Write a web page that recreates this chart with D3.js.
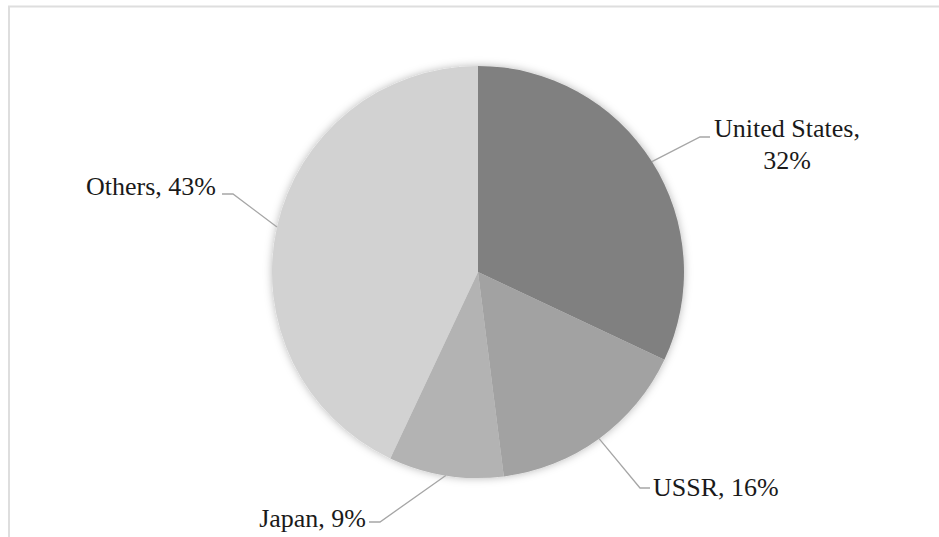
<!DOCTYPE html>
<html>
<head>
<meta charset="utf-8">
<script src="https://cdn.jsdelivr.net/npm/d3@7"></script>
<style>
  html, body { margin: 0; padding: 0; background: #fff; }
  svg { display: block; }
</style>
</head>
<body>
<svg id="chart" width="939" height="537"></svg>
<script>
// Share of total, by country
const countries = ["United States", "USSR", "Japan", "Others"];
const shares = [32, 16, 9, 43];
const fills = ["#808080", "#a2a2a2", "#b3b3b3", "#d2d2d2"];

// Label placement: elbow of the leader line, end of its flat run, text anchor
const labelLayout = [
  { elbow: [700, 137], end: [710, 137], text: [787, 128], anchor: "middle", lines: ["United States,", "32%"] },
  { elbow: [640, 488], end: [650, 488], text: [653, 487], anchor: "start", lines: ["USSR, 16%"] },
  { elbow: [380, 522], end: [369, 522], text: [366, 518], anchor: "end", lines: ["Japan, 9%"] },
  { elbow: [233, 194], end: [222, 194], text: [216, 186], anchor: "end", lines: ["Others, 43%"] }
];

const svg = d3.select("#chart");
const cx = 478, cy = 272, radius = 206;

// Outer frame
svg.append("rect")
  .attr("x", 9).attr("y", 6.5)
  .attr("width", 960).attr("height", 560)
  .attr("fill", "none")
  .attr("stroke", "#dedede")
  .attr("stroke-width", 2);

const defs = svg.append("defs");
const glow = defs.append("filter").attr("id", "soft")
  .attr("x", "-20%").attr("y", "-20%").attr("width", "140%").attr("height", "140%");
glow.append("feGaussianBlur").attr("in", "SourceAlpha").attr("stdDeviation", 4).attr("result", "b");
glow.append("feFlood").attr("flood-color", "#000").attr("flood-opacity", 0.28);
glow.append("feComposite").attr("in2", "b").attr("operator", "in").attr("result", "s");
const merge = glow.append("feMerge");
merge.append("feMergeNode").attr("in", "s");
merge.append("feMergeNode").attr("in", "SourceGraphic");

const data = countries.map((c, i) => ({ name: c, value: shares[i], fill: fills[i] }));
const pie = d3.pie().value(d => d.value).sort(null);
const arc = d3.arc().innerRadius(0).outerRadius(radius);
const arcs = pie(data);

const g = svg.append("g").attr("transform", `translate(${cx},${cy})`);
g.append("g").attr("filter", "url(#soft)")
  .selectAll("path")
  .data(arcs)
  .join("path")
  .attr("d", arc)
  .attr("fill", d => d.data.fill);

// Leader lines from the slice edge at mid-angle, then the labels
const lines = svg.append("g");
arcs.forEach((a, i) => {
  const mid = (a.startAngle + a.endAngle) / 2;
  const sx = cx + radius * Math.sin(mid);
  const sy = cy - radius * Math.cos(mid);
  const L = labelLayout[i];
  lines.append("polyline")
    .attr("points", [[sx, sy], L.elbow, L.end].map(p => p.join(",")).join(" "))
    .attr("fill", "none")
    .attr("stroke", "#a6a6a6")
    .attr("stroke-width", 1.3);
  const t = svg.append("text")
    .attr("x", L.text[0]).attr("y", L.text[1])
    .attr("text-anchor", L.anchor)
    .attr("font-family", "'Liberation Serif', 'Times New Roman', serif")
    .attr("font-size", 26)
    .attr("fill", "#1a1a1a");
  L.lines.forEach((ln, j) => {
    t.append("tspan")
      .attr("x", L.text[0])
      .attr("y", L.text[1] + j * 32)
      .attr("dy", "0.35em")
      .text(ln);
  });
});
</script>
</body>
</html>
